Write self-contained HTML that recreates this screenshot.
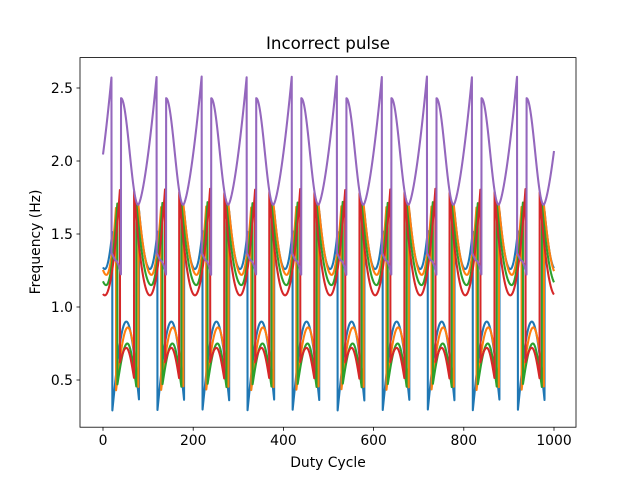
<!DOCTYPE html>
<html><head><meta charset="utf-8"><style>
html,body{margin:0;padding:0;background:#fff;}
svg{display:block;font-family:"DejaVu Sans","Liberation Sans",sans-serif;}
</style></head><body>
<svg id="s" width="640" height="480" viewBox="0 0 640 480" xmlns="http://www.w3.org/2000/svg">
<rect width="640" height="480" fill="#fff"/>
<g id="lines"></g>
<rect x="80" y="57.6" width="496" height="369.6" fill="none" stroke="#000" stroke-width="0.8"/>
<g stroke="#000" stroke-width="0.8">
<line x1="103" y1="427.2" x2="103" y2="430.7"/><line x1="193.2" y1="427.2" x2="193.2" y2="430.7"/>
<line x1="283.4" y1="427.2" x2="283.4" y2="430.7"/><line x1="373.6" y1="427.2" x2="373.6" y2="430.7"/>
<line x1="463.8" y1="427.2" x2="463.8" y2="430.7"/><line x1="554" y1="427.2" x2="554" y2="430.7"/>
<line x1="76.5" y1="380" x2="80" y2="380"/><line x1="76.5" y1="307" x2="80" y2="307"/>
<line x1="76.5" y1="234" x2="80" y2="234"/><line x1="76.5" y1="161" x2="80" y2="161"/>
<line x1="76.5" y1="88" x2="80" y2="88"/>
</g>
<g font-size="13.9" fill="#000" text-anchor="middle">
<text x="103" y="445">0</text><text x="193.2" y="445">200</text><text x="283.4" y="445">400</text>
<text x="373.6" y="445">600</text><text x="463.8" y="445">800</text><text x="554" y="445">1000</text>
</g>
<g font-size="13.9" fill="#000" text-anchor="end">
<text x="73" y="385">0.5</text><text x="73" y="312">1.0</text><text x="73" y="239">1.5</text>
<text x="73" y="166">2.0</text><text x="73" y="93">2.5</text>
</g>
<text x="328" y="467" font-size="13.9" text-anchor="middle">Duty Cycle</text>
<text x="40" y="242" font-size="13.9" text-anchor="middle" transform="rotate(-90 40 242)">Frequency (Hz)</text>
<text x="328" y="49" font-size="16.7" text-anchor="middle">Incorrect pulse</text>
</svg>
<script>
var P=99.9;
function X(x){return 103+x*0.451;}
function Y(v){return 380-(v-0.5)*146;}
var S=[
 {c:"#1f77b4",d:20.7,u:80,ls:0.29,lp:0.90,ltp:31,le:0.36,ha:1.66,hm:1.26,htm:24,hb:1.52},
 {c:"#ff7f0e",d:29,u:78.6,ls:0.43,lp:0.86,ltp:26,le:0.45,ha:1.70,hm:1.22,htm:29,hb:1.69},
 {c:"#2ca02c",d:32,u:74,ls:0.47,lp:0.75,ltp:22,le:0.45,ha:1.71,hm:1.15,htm:33,hb:1.72},
 {c:"#d62728",d:37.7,u:69,ls:0.62,lp:0.72,ltp:14,le:0.51,ha:1.79,hm:1.08,htm:35,hb:1.81}
];
function f(s,x){
 var t=((x%P)+P)%P;
 if(t>=s.d&&t<s.u){var tt=t-s.d,T=s.u-s.d;
  if(tt<s.ltp)return s.ls+(s.lp-s.ls)*Math.sin(Math.PI/2*tt/s.ltp);
  return s.le+(s.lp-s.le)*Math.cos(Math.PI/2*(tt-s.ltp)/(T-s.ltp));}
 var tt=t>=s.u?t-s.u:t+P-s.u,T=P-(s.u-s.d);
 if(tt<s.htm){var r=(s.htm-tt)/s.htm;return s.hm+(s.ha-s.hm)*r*r;}
 var r=(tt-s.htm)/(T-s.htm);return s.hm+(s.hb-s.hm)*r*r;
}
function fp(x){
 var t=((x%P)+P)%P,d=19,u=40;
 if(t>=d&&t<u){var tt=t-d;
  if(tt<8)return 1.37-0.05*tt/8;
  var r=(tt-8)/13;return 1.32-0.1*r*r;}
 var tt=t>=u?t-u:t+P-u,T=P-(u-d),tm=38;
 if(tt<tm)return 1.70+0.73*(1+Math.cos(Math.PI*tt/tm))/2;
 var r=(tt-tm)/(T-tm);return 1.70+0.88*Math.pow(r,1.5);
}
var g=document.getElementById("lines"),ns="http://www.w3.org/2000/svg";
function draw(fn,c){
 var pts=[];for(var x=0;x<=1000;x+=0.25){pts.push(X(x).toFixed(2)+","+Y(fn(x)).toFixed(2));}
 var p=document.createElementNS(ns,"polyline");
 p.setAttribute("points",pts.join(" "));p.setAttribute("fill","none");
 p.setAttribute("stroke",c);p.setAttribute("stroke-width","2.08");
 p.setAttribute("stroke-linejoin","round");g.appendChild(p);
}
S.forEach(function(s){draw(function(x){return f(s,x);},s.c);});
draw(fp,"#9467bd");
</script>
</body></html>
